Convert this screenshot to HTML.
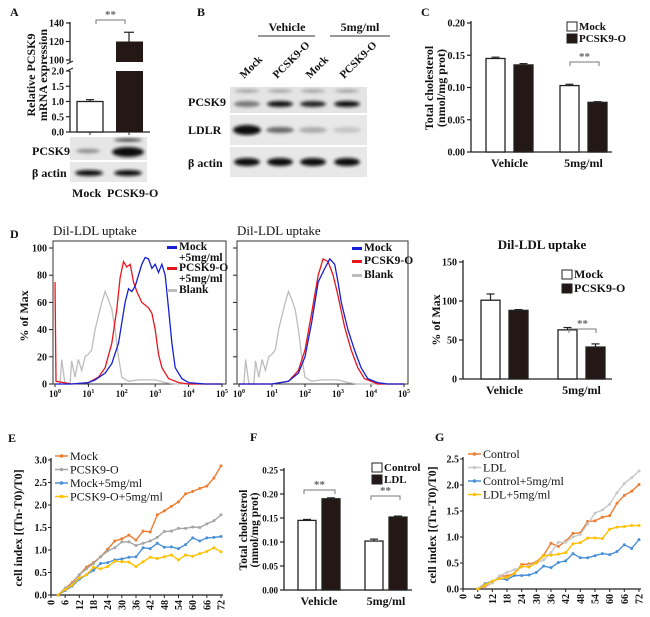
<!DOCTYPE html>
<html><head><meta charset="utf-8">
<style>
html,body{margin:0;padding:0;background:#fff;}
svg{display:block;}
text{font-family:"Liberation Serif",serif;}
</style></head>
<body>
<svg id="fig" xmlns="http://www.w3.org/2000/svg" width="650" height="617" viewBox="0 0 650 617">
<defs>
<filter id="blur" x="-50%" y="-100%" width="200%" height="300%"><feGaussianBlur stdDeviation="1.6"/></filter>
</defs>
<rect x="0" y="0" width="650" height="617" fill="#fff"/>
</svg>
<script>
// ---------- DATA ----------
const aGroups=["Mock","PCSK9-O"];
const aValues=[1.0,120];
const aErrors=[0.06,10];
const cGroups=["Vehicle","5mg/ml"];
const cMock=[0.145,0.103];
const cPcsk=[0.135,0.077];
const cMockErr=[0.002,0.002];
const cPcskErr=[0.002,0.001];
const cTicks=[0,0.05,0.10,0.15,0.20];
const dGroups=["Vehicle","5mg/ml"];
const dMock=[101,63];
const dPcsk=[88,41];
const dMockErr=[8,3];
const dPcskErr=[1,4];
const dTicks=[0,50,100,150];
const fGroups=["Vehicle","5mg/ml"];
const fControl=[0.145,0.102];
const fLdl=[0.190,0.152];
const fControlErr=[0.002,0.004];
const fLdlErr=[0.002,0.002];
const fTicks=[0,0.05,0.10,0.15,0.20,0.25];
const histTicksY=[0,20,40,60,80,100];
const histTicksX=[0,1,2,3,4,5];
const h1Blue=[[0,0],[0.5,0],[1,1],[1.2,3],[1.5,8],[1.7,15],[1.9,30],[2.0,45],[2.1,60],[2.2,70],[2.3,68],[2.4,72],[2.5,80],[2.6,88],[2.7,93],[2.8,92],[2.9,85],[3.0,88],[3.1,82],[3.2,88],[3.3,80],[3.4,55],[3.5,30],[3.6,12],[3.8,4],[4,1],[4.5,0],[5,0]];
const h1Red=[[0,75],[0.03,2],[0.5,0],[1,1],[1.3,5],[1.5,12],[1.7,30],[1.85,55],[1.95,78],[2.05,90],[2.15,86],[2.25,88],[2.35,75],[2.45,68],[2.6,60],[2.8,56],[2.9,52],[3.0,40],[3.1,22],[3.2,12],[3.4,4],[3.7,1],[4,0],[5,0]];
const hBlank=[[0,0],[0.15,0],[0.2,18],[0.3,0],[0.45,0],[0.5,17],[0.6,5],[0.7,18],[0.8,10],[0.9,20],[1.0,22],[1.1,25],[1.2,40],[1.3,50],[1.4,60],[1.5,68],[1.6,62],[1.7,55],[1.8,40],[1.9,20],[2.0,5],[2.2,2],[2.5,3],[3.0,3],[3.3,1],[3.6,0],[5,0]];
const h2Blue=[[0,0],[1,0],[1.5,2],[1.8,8],[2.0,20],[2.2,45],[2.4,75],[2.6,85],[2.75,92],[2.9,88],[3.0,75],[3.1,60],[3.3,40],[3.5,25],[3.7,12],[3.9,4],[4.2,1],[4.5,0],[5,0]];
const h2Red=[[0,0],[1,0],[1.5,2],[1.8,10],[2.0,25],[2.2,52],[2.4,80],[2.55,92],[2.7,90],[2.85,80],[3.0,65],[3.2,42],[3.4,25],[3.6,12],[3.8,4],[4.2,0],[5,0]];
const timeTicks=[0,6,12,18,24,30,36,42,48,54,60,66,72];
const eTimes=[3,6,9,12,15,18,21,24,27,30,33,36,39,42,45,48,51,54,57,60,63,66,69,72];
const eMock=[0,0.15,0.28,0.45,0.62,0.72,0.85,1.02,1.2,1.25,1.33,1.22,1.42,1.4,1.78,1.87,1.97,2.07,2.25,2.3,2.37,2.42,2.6,2.87];
const ePcsk=[0,0.15,0.25,0.45,0.58,0.7,0.85,0.98,1.05,1.18,1.18,1.1,1.15,1.2,1.28,1.41,1.42,1.48,1.48,1.51,1.5,1.58,1.65,1.78];
const eMock5=[0,0.1,0.2,0.35,0.45,0.55,0.7,0.72,0.78,0.8,0.84,0.85,1.05,1.03,1.15,1.06,1.07,1.03,1.12,1.27,1.2,1.27,1.28,1.3];
const ePcsk5=[0,0.12,0.22,0.38,0.45,0.62,0.58,0.63,0.75,0.74,0.73,0.63,0.74,0.84,0.81,0.85,0.89,0.78,0.89,0.86,0.92,0.97,1.05,0.96];
const eTicksY=[0,0.5,1.0,1.5,2.0,2.5,3.0];
const gTimes=[6,9,12,15,18,21,24,27,30,33,36,39,42,45,48,51,54,57,60,63,66,69,72];
const gControl=[0,0.05,0.12,0.25,0.25,0.3,0.47,0.48,0.52,0.65,0.88,0.82,0.92,1.07,1.08,1.3,1.31,1.38,1.41,1.65,1.8,1.88,2.01];
const gLdl=[0,0.07,0.12,0.25,0.32,0.37,0.42,0.45,0.5,0.56,0.7,0.9,0.9,1.0,1.05,1.25,1.46,1.52,1.63,1.85,2.03,2.14,2.27];
const gControl5=[0,0.1,0.15,0.2,0.18,0.26,0.26,0.27,0.32,0.44,0.41,0.51,0.54,0.68,0.6,0.6,0.64,0.68,0.66,0.72,0.85,0.78,0.95];
const gLdl5=[0,0.08,0.15,0.2,0.22,0.3,0.44,0.42,0.5,0.64,0.65,0.67,0.7,0.87,0.89,0.98,0.98,0.97,1.15,1.19,1.2,1.22,1.22];
const gTicksY=[0,0.5,1.0,1.5,2.0,2.5];

// ---------- HELPERS ----------
const NS="http://www.w3.org/2000/svg";
const svg=document.getElementById('fig');
function mk(tag,a,p,name){
  const e=document.createElementNS(NS,tag);
  for(const k in a) e.setAttribute(k,a[k]);
  
  
  (p||svg).appendChild(e);
  return e;
}
function tx(x,y,s,name,o){
  o=o||{};
  const e=mk('text',{x:x,y:y,'font-size':o.size||10,'font-weight':o.w||'bold','text-anchor':o.a||'start',fill:o.fill||'#111'},o.p||svg,name);
  if(o.rot!==undefined) e.setAttribute('transform','rotate('+o.rot+' '+x+' '+y+')');
  e.textContent=s;
  return e;
}
function ln(x1,y1,x2,y2,name,c,w,p){return mk('line',{x1:x1,y1:y1,x2:x2,y2:y2,stroke:c||'#222','stroke-width':w||1.2},p,name);}
function lin(d0,d1,r0,r1){return v=>r0+(v-d0)/(d1-d0)*(r1-r0);}
function fmt(v,dec){return v.toFixed(dec);}

function barChart(cfg){
  const g=mk('g',{},svg,cfg.name);
  const y=lin(0,cfg.max,cfg.y0,cfg.y1);
  ln(cfg.ax,cfg.y1-2,cfg.ax,cfg.y0,'y-axis-line','#222',1.3,g);
  ln(cfg.ax,cfg.y0,cfg.xEnd,cfg.y0,'x-axis-line','#222',1.3,g);
  cfg.ticks.forEach(t=>{
    ln(cfg.ax-4,y(t),cfg.ax,y(t),'y-tick','#222',1.2,g);
    tx(cfg.ax-6,y(t)+3.5,fmt(t,cfg.dec),'y-tick-label',{a:'end',p:g,size:cfg.tickSize||10});
  });
  cfg.groups.forEach((gn,i)=>{
    const gx=cfg.ax+cfg.first+i*cfg.spacing;
    [0,1].forEach(j=>{
      const v=cfg.series[j][i], er=cfg.errs[j][i];
      const bx=gx+j*cfg.offset;
      ln(bx+cfg.bw/2,y(v),bx+cfg.bw/2,y(v+er),'error-bar','#222',1.2,g);
      ln(bx+cfg.bw/2-4,y(v+er),bx+cfg.bw/2+4,y(v+er),'error-cap','#222',1.2,g);
      mk('rect',{x:bx,y:y(v),width:cfg.bw,height:cfg.y0-y(v),fill:j?'#231815':'#fff',stroke:'#222','stroke-width':1.3},g,'bar-'+cfg.names[j]+'-'+i);
    });
    tx(gx+(cfg.offset+cfg.bw)/2,cfg.y0+cfg.labDy,gn,'x-group-label',{a:'middle',size:12,p:g});
  });
  return {g:g,y:y};
}
function legendBox(x,y,label,dark,name,size){
  mk('rect',{x:x,y:y-8,width:10,height:9,fill:dark?'#231815':'#fff',stroke:'#222','stroke-width':1},svg,name+'-swatch');
  tx(x+12,y,label,name+'-label',{size:size||11});
}
function bracket(x1,x2,y,name){
  const g=mk('g',{},svg,name);
  mk('path',{d:'M'+x1+' '+(y+4)+'V'+y+'H'+x2+'V'+(y+4),fill:'none',stroke:'#777','stroke-width':1},g,'bracket-line');
  tx((x1+x2)/2,y-2,'**','significance-label',{a:'middle',size:11,fill:'#666',p:g});
}

// ---------- PANEL A ----------
tx(10,16,'A','panel-label-a',{size:12});
(function(){
  const g=mk('g',{},svg,'panel-a-chart');
  const ax=70;
  const yl=lin(0,2,132,71), yu=lin(100,140,60,23);
  ln(ax,71,ax,132,'y-axis-lower','#222',1.3,g);
  ln(ax,22,ax,62,'y-axis-upper','#222',1.3,g);
  ln(ax-3,64,ax+3,61,'axis-break','#222',1,g);
  ln(ax-3,71,ax+3,68,'axis-break','#222',1,g);
  ln(ax,132,150,132,'x-axis-line','#222',1.3,g);
  [0,0.5,1.0,1.5,2.0].forEach(t=>{ln(ax-4,yl(t),ax,yl(t),'y-tick','#222',1.2,g);tx(ax-6,yl(t)+3.5,fmt(t,1),'y-tick-label',{a:'end',p:g});});
  [100,120,140].forEach(t=>{ln(ax-4,yu(t),ax,yu(t),'y-tick','#222',1.2,g);tx(ax-6,yu(t)+3.5,String(t),'y-tick-label',{a:'end',p:g});});
  const v0=aValues[0];
  ln(90,yl(v0),90,yl(v0+aErrors[0]),'error-bar','#222',1.2,g);
  ln(86,yl(v0+aErrors[0]),94,yl(v0+aErrors[0]),'error-cap','#222',1.2,g);
  mk('rect',{x:77,y:yl(v0),width:26,height:132-yl(v0),fill:'#fff',stroke:'#222','stroke-width':1.3},g,'bar-mock');
  const v1=aValues[1];
  ln(129,yu(v1),129,yu(v1+aErrors[1]),'error-bar','#222',1.2,g);
  ln(124,yu(v1+aErrors[1]),134,yu(v1+aErrors[1]),'error-cap','#222',1.2,g);
  mk('rect',{x:116,y:yu(v1),width:27,height:62-yu(v1),fill:'#231815'},g,'bar-pcsk9-upper');
  mk('rect',{x:116,y:71,width:27,height:61,fill:'#231815'},g,'bar-pcsk9-lower');
  ln(90,132,90,135,'x-tick','#222',1,g);ln(129,132,129,135,'x-tick','#222',1,g);
})();
tx(35,75,'Relative PCSK9','y-axis-title-a',{size:12,a:'middle',rot:-90});
tx(47,75,'mRNA expression','y-axis-title-a2',{size:12,a:'middle',rot:-90});
bracket(96,125,20,'significance-a');
mk('rect',{x:70,y:137,width:77,height:23,fill:'#e6e6e6'},svg,'blot-a-pcsk9-row');
mk('rect',{x:70,y:162,width:77,height:20,fill:'#e8e8e8'},svg,'blot-a-actin-row');
mk('ellipse',{cx:88,cy:151,rx:12,ry:2,fill:'#888',filter:'url(#blur)'},svg,'band');
mk('ellipse',{cx:128,cy:152,rx:16,ry:5,fill:'#111',filter:'url(#blur)'},svg,'band');
mk('ellipse',{cx:128,cy:140,rx:14,ry:1.5,fill:'#333',filter:'url(#blur)'},svg,'band');
mk('ellipse',{cx:89,cy:173,rx:14,ry:3,fill:'#111',filter:'url(#blur)'},svg,'band');
mk('ellipse',{cx:128,cy:173,rx:14,ry:3,fill:'#111',filter:'url(#blur)'},svg,'band');
tx(32,155,'PCSK9','blot-a-label-pcsk9',{size:12});
tx(32,177,'β actin','blot-a-label-actin',{size:12});
tx(72,197,'Mock','blot-a-lane-mock',{size:12});
tx(107,197,'PCSK9-O','blot-a-lane-pcsk9',{size:12});

// ---------- PANEL B ----------
tx(197,16,'B','panel-label-b',{size:12});
tx(287,31,'Vehicle','group-label-vehicle',{size:12,a:'middle'});
ln(258,36,315,36,'group-line-vehicle','#333',1);
tx(360,31,'5mg/ml','group-label-5mg',{size:12,a:'middle'});
ln(330,36,390,36,'group-line-5mg','#333',1);
const bLanes=["Mock","PCSK9-O","Mock","PCSK9-O"];
const bLaneX=[247,280,313,347];
bLanes.forEach((l,i)=>{tx(bLaneX[i]-3,79,l,'lane-label',{size:11,a:'start',rot:-45});});
mk('rect',{x:230,y:87,width:137,height:26,fill:'#e4e4e4'},svg,'blot-b-pcsk9-row');
mk('rect',{x:230,y:115,width:137,height:30,fill:'#e8e8e8'},svg,'blot-b-ldlr-row');
mk('rect',{x:230,y:147,width:137,height:30,fill:'#e8e8e8'},svg,'blot-b-actin-row');
const bPcskDark=['#777','#111','#222','#111'];
const bLdlrDark=['#111','#666','#aaa','#c4c4c4'];
bLaneX.forEach((x,i)=>{
  mk('ellipse',{cx:x,cy:91,rx:12,ry:1.5,fill:'#999',filter:'url(#blur)'},svg,'band');
  mk('ellipse',{cx:x,cy:104,rx:13,ry:3,fill:bPcskDark[i],filter:'url(#blur)'},svg,'band');
  mk('ellipse',{cx:x,cy:130,rx:14,ry:i?3:5,fill:bLdlrDark[i],filter:'url(#blur)'},svg,'band');
  mk('ellipse',{cx:x,cy:162,rx:13,ry:4,fill:'#111',filter:'url(#blur)'},svg,'band');
});
tx(188,106,'PCSK9','blot-b-label-pcsk9',{size:12});
tx(188,134,'LDLR','blot-b-label-ldlr',{size:12});
tx(188,167,'β actin','blot-b-label-actin',{size:12});

// ---------- PANEL C ----------
tx(421,16,'C','panel-label-c',{size:12});
barChart({name:'panel-c-chart',ax:471,xEnd:612,y0:152,y1:23,max:0.20,ticks:cTicks,dec:2,groups:cGroups,series:[cMock,cPcsk],errs:[cMockErr,cPcskErr],names:['mock','pcsk9'],first:15,spacing:74,offset:28,bw:19,labDy:15});
tx(433,88,'Total cholesterol','y-axis-title-c',{size:12,a:'middle',rot:-90});
tx(445,88,'(nmol/mg prot)','y-axis-title-c2',{size:12,a:'middle',rot:-90});
legendBox(567,30,'Mock',false,'legend-c-mock');
legendBox(567,42,'PCSK9-O',true,'legend-c-pcsk9');
bracket(570,599,62,'significance-c');

// ---------- PANEL D histograms ----------
tx(10,238,'D','panel-label-d',{size:12});
function hist(cfg){
  const g=mk('g',{},svg,cfg.name);
  const x=lin(0,5,cfg.x0+2,cfg.x1-4), y=lin(0,100,384,248);
  mk('rect',{x:cfg.x0,y:241,width:cfg.x1-cfg.x0,height:143,fill:'none',stroke:'#333','stroke-width':1},g,'plot-frame');
  histTicksY.forEach(t=>{ln(cfg.x0-4,y(t),cfg.x0,y(t),'y-tick','#222',1,g); if(cfg.ylab) tx(cfg.x0-6,y(t)+3.5,String(t),'y-tick-label',{a:'end',p:g});});
  histTicksX.forEach(t=>{
    ln(x(t),384,x(t),387,'x-tick','#222',1,g);
    const e=tx(x(t),397,'10','x-tick-label',{a:'middle',size:9,p:g});
    const s=document.createElementNS(NS,'tspan');s.setAttribute('dy','-4');s.setAttribute('font-size','6');s.textContent=String(t);e.appendChild(s);
  });
  cfg.curves.forEach(c=>{
    mk('path',{d:'M'+c.data.map(p=>x(p[0]).toFixed(1)+' '+y(p[1]).toFixed(1)).join('L'),fill:'none',stroke:c.col,'stroke-width':c.w||1.3},g,c.name);
  });
  tx(cfg.x0,235,'Dil-LDL uptake','hist-title',{size:13,w:'normal',p:g});
}
hist({name:'histogram-1',x0:53,x1:226,ylab:true,curves:[{data:hBlank,col:'#bdbdbd',name:'curve-blank'},{data:h1Red,col:'#e8161b',name:'curve-pcsk9-5mg'},{data:h1Blue,col:'#1520d6',name:'curve-mock-5mg'}]});
hist({name:'histogram-2',x0:237,x1:408,ylab:false,curves:[{data:hBlank,col:'#bdbdbd',name:'curve-blank'},{data:h2Red,col:'#e8161b',name:'curve-pcsk9'},{data:h2Blue,col:'#1520d6',name:'curve-mock'}]});
tx(28,316,'% of Max','y-axis-title-hist',{size:12,a:'middle',rot:-90});
function hleg(x,y,col,l1,l2,name){
  mk('rect',{x:x,y:y-3,width:10,height:3,fill:col},svg,name+'-swatch');
  tx(x+12,y+1,l1,name+'-label',{size:11.5});
  if(l2) tx(x+12,y+12,l2,name+'-label2',{size:11.5});
}
hleg(167,249,'#1520d6','Mock','+5mg/ml','legend-h1-mock');
hleg(167,270,'#e8161b','PCSK9-O','+5mg/ml','legend-h1-pcsk9');
hleg(167,292,'#bdbdbd','Blank','','legend-h1-blank');
hleg(352,250,'#1520d6','Mock','','legend-h2-mock');
hleg(352,263,'#e8161b','PCSK9-O','','legend-h2-pcsk9');
hleg(352,277,'#bdbdbd','Blank','','legend-h2-blank');

// ---------- PANEL D bar ----------
tx(542,249,'Dil-LDL uptake','dbar-title',{size:13,a:'middle'});
barChart({name:'panel-d-bar-chart',ax:463,xEnd:612,y0:379,y1:262,max:150,ticks:dTicks,dec:0,groups:dGroups,series:[dMock,dPcsk],errs:[dMockErr,dPcskErr],names:['mock','pcsk9'],first:18,spacing:77,offset:28,bw:19,labDy:15});
tx(440,320,'% of Max','y-axis-title-dbar',{size:12,a:'middle',rot:-90});
legendBox(562,278,'Mock',false,'legend-d-mock',12);
legendBox(562,292,'PCSK9-O',true,'legend-d-pcsk9',12);
bracket(569,596,329,'significance-d');

// ---------- LINE CHARTS ----------
function lineChart(cfg){
  const g=mk('g',{},svg,cfg.name);
  const x=lin(0,72,cfg.x0,cfg.x1), y=lin(0,cfg.ymax,cfg.y0,cfg.y1);
  ln(cfg.x0,cfg.y1-2,cfg.x0,cfg.y0,'y-axis-line','#222',1.3,g);
  ln(cfg.x0,cfg.y0,cfg.x1+2,cfg.y0,'x-axis-line','#222',1.3,g);
  cfg.ticks.forEach(t=>{ln(cfg.x0-3,y(t),cfg.x0,y(t),'y-tick','#222',1,g);tx(cfg.x0-4,y(t)+3.5,fmt(t,1),'y-tick-label',{a:'end',p:g});});
  timeTicks.forEach(t=>{ln(x(t),cfg.y0,x(t),cfg.y0+3,'x-tick','#222',1,g);tx(x(t)+3.5,cfg.y0+5,String(t),'x-tick-label',{a:'end',rot:-90,p:g});});
  cfg.series.forEach(s=>{
    mk('path',{d:'M'+cfg.times.map((t,i)=>x(t).toFixed(1)+' '+y(s.v[i]).toFixed(1)).join('L'),fill:'none',stroke:s.c,'stroke-width':1.4},g,s.name);
    cfg.times.forEach((t,i)=>{mk('circle',{cx:x(t),cy:y(s.v[i]),r:1.5,fill:s.c},g,s.name+'-point');});
  });
  cfg.series.forEach((s,i)=>{
    const ly=cfg.legY+i*13.5;
    ln(cfg.legX,ly-3,cfg.legX+13,ly-3,s.name+'-legend-line',s.c,1.5,g);
    mk('circle',{cx:cfg.legX+6.5,cy:ly-3,r:1.8,fill:s.c},g,s.name+'-legend-marker');
    tx(cfg.legX+15,ly+1,s.label,s.name+'-legend-label',{size:12,w:'normal',p:g});
  });
}
tx(8,442,'E','panel-label-e',{size:12});
lineChart({name:'panel-e-chart',x0:51,x1:221,y0:595,y1:460,ymax:3.0,ticks:eTicksY,times:eTimes,legX:55,legY:459,series:[
 {v:eMock,c:'#ed7d31',name:'line-mock',label:'Mock'},
 {v:ePcsk,c:'#a5a5a5',name:'line-pcsk9',label:'PCSK9-O'},
 {v:eMock5,c:'#4a90d9',name:'line-mock-5mg',label:'Mock+5mg/ml'},
 {v:ePcsk5,c:'#ffc000',name:'line-pcsk9-5mg',label:'PCSK9-O+5mg/ml'}]});
tx(22,528,'cell index [(Tn-T0)/T0]','y-axis-title-e',{size:12,a:'middle',rot:-90});

tx(250,441,'F','panel-label-f',{size:12});
barChart({name:'panel-f-chart',ax:284,xEnd:412,y0:590,y1:470,max:0.25,ticks:fTicks,dec:2,groups:fGroups,series:[fControl,fLdl],errs:[fControlErr,fLdlErr],names:['control','ldl'],first:14,spacing:67,offset:24,bw:18,labDy:15,tickSize:9});
tx(247,530,'Total cholesterol','y-axis-title-f',{size:11.5,a:'middle',rot:-90});
tx(258,530,'(nmol/mg prot)','y-axis-title-f2',{size:11.5,a:'middle',rot:-90});
legendBox(372,471,'Control',false,'legend-f-control');
legendBox(372,483,'LDL',true,'legend-f-ldl');
bracket(304,335,490,'significance-f-vehicle');
bracket(371,400,496,'significance-f-5mg');

tx(435,441,'G','panel-label-g',{size:12});
lineChart({name:'panel-g-chart',x0:463,x1:639,y0:589,y1:459,ymax:2.5,ticks:gTicksY,times:gTimes,legX:468,legY:457,series:[
 {v:gControl,c:'#ed7d31',name:'line-control',label:'Control'},
 {v:gLdl,c:'#c8c8c8',name:'line-ldl',label:'LDL'},
 {v:gControl5,c:'#4a90d9',name:'line-control-5mg',label:'Control+5mg/ml'},
 {v:gLdl5,c:'#ffc000',name:'line-ldl-5mg',label:'LDL+5mg/ml'}]});
tx(436,525,'cell index [(Tn-T0)/T0]','y-axis-title-g',{size:12,a:'middle',rot:-90});
</script>
</body></html>
